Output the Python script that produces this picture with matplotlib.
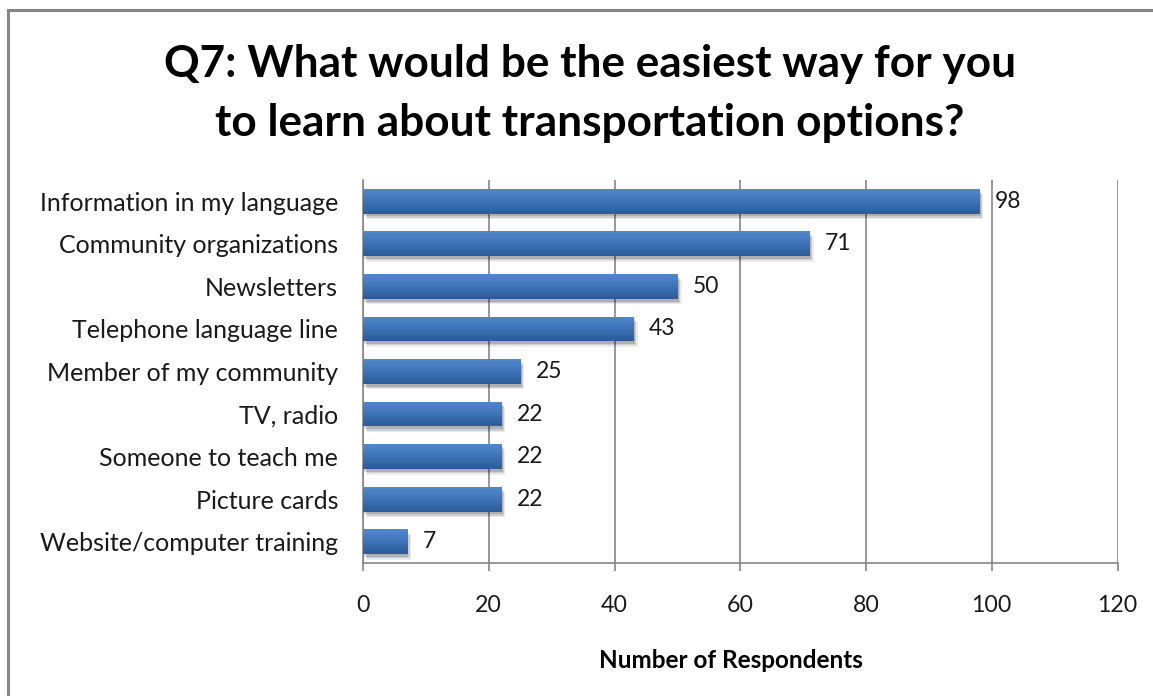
import matplotlib.pyplot as plt
import matplotlib.patheffects as pe
from matplotlib.colors import LinearSegmentedColormap
from matplotlib.patches import Rectangle
import numpy as np

plt.rcParams['font.family'] = ['Lato', 'DejaVu Sans']

categories = [
    "Information in my language",
    "Community organizations",
    "Newsletters",
    "Telephone language line",
    "Member of my community",
    "TV, radio",
    "Someone to teach me",
    "Picture cards",
    "Website/computer training",
]
counts = [98, 71, 50, 43, 25, 22, 22, 22, 7]
x_ticks = [0, 20, 40, 60, 80, 100, 120]

title = "Q7: What would be the easiest way for you\nto learn about transportation options?"
x_label = "Number of Respondents"

W, H = 1153, 696
fig = plt.figure(figsize=(W / 100, H / 100), dpi=100)

# outer chart frame (only left and top edges are visible)
fig.patches.append(Rectangle((8 / W, -0.05), 1.1, (H - 10) / H + 0.05,
                             transform=fig.transFigure, fill=False,
                             edgecolor='#868686', linewidth=2.2))

ax = fig.add_axes([363 / W, (H - 563) / H, 754.5 / W, 383 / H])

bar_h = 0.58
grad_cmap = LinearSegmentedColormap.from_list(
    'bar', ['#5288CA', '#3E74BA', '#2C5B97'])
gradient = np.linspace(0, 1, 64).reshape(-1, 1)

y = np.arange(len(categories))
bars = ax.barh(y, counts, height=bar_h, color='#3B6FB2', zorder=3,
               path_effects=[pe.SimplePatchShadow(offset=(3, -4), shadow_rgbFace='#000000', alpha=0.08),
                             pe.SimplePatchShadow(offset=(2, -3), shadow_rgbFace='#000000', alpha=0.12),
                             pe.SimplePatchShadow(offset=(1, -2), shadow_rgbFace='#000000', alpha=0.15),
                             pe.Normal()])

for yi, v, bar in zip(y, counts, bars):
    im = ax.imshow(gradient, extent=(0, v, yi + bar_h / 2, yi - bar_h / 2),
                   origin='upper', aspect='auto', cmap=grad_cmap, zorder=4)
    im.set_clip_path(bar)
    ax.annotate(str(v), (v, yi), xytext=(11, 0), textcoords='offset points',
                va='center', ha='left', fontsize=16.5, color='#1a1a1a')

ax.set_xlim(0, 120)
ax.set_ylim(len(categories) - 0.5, -0.5)
ax.set_xticks(x_ticks)
ax.set_yticks(y)
ax.set_yticklabels(categories, fontsize=18)
ax.tick_params(axis='y', length=0, pad=18)
ax.tick_params(axis='x', length=6, width=1.2, color='#868686', pad=17, labelsize=16.7)
for t in ax.get_xticklabels():
    t.set_color('#1a1a1a')
for t in ax.get_yticklabels():
    t.set_color('#1a1a1a')

ax.grid(axis='x', color='#868686', linewidth=1.2, zorder=0)
ax.set_axisbelow(True)
for side in ['top', 'right']:
    ax.spines[side].set_visible(False)
for side in ['left', 'bottom']:
    ax.spines[side].set_color('#868686')
    ax.spines[side].set_linewidth(1.2)

ax.set_xlabel(x_label, fontsize=17.5, fontweight='bold')
ax.xaxis.set_label_coords((731 - 363) / 754.5, -(661 - 563) / 383)
ax.xaxis.label.set_va('center')

fig.text(590 / W, 1 - 93.5 / H, title, ha='center', va='center',
         fontsize=31.8, fontweight='bold', linespacing=1.55)

fig.savefig('out.png', dpi=100)
